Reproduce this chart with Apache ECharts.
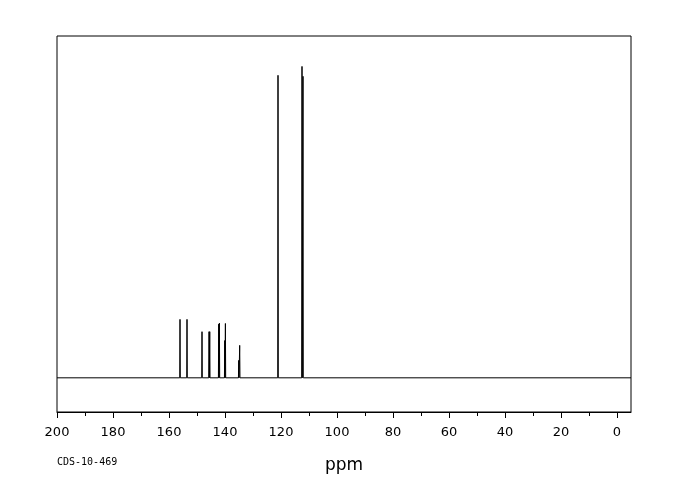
<!DOCTYPE html>
<html lang="en">

<head>
    <meta charset="UTF-8">
    <title>CDS-10-469 13C NMR</title>
    <script src="https://cdn.jsdelivr.net/npm/echarts@6.0.0/dist/echarts.min.js"></script>
</head>

<body style="margin:0">
    <div id="myChart" style="width: 680px; height: 500px;"></div>
    <script>
        // peak positions (ppm) and heights
        const peakPpm = [156.07, 153.57, 148.21, 145.7, 145.45, 142.25, 142.0, 140.1, 139.86, 135.1, 134.75, 121.07, 112.5, 112.14];
        const peakHeight = [17.1, 17.1, 13.5, 13.5, 13.5, 15.7, 16.0, 10.9, 15.9, 5.1, 9.5, 88.5, 91.1, 88.2];
        const majorTicks = [200, 180, 160, 140, 120, 100, 80, 60, 40, 20, 0];
        const minorTicks = [190, 170, 150, 130, 110, 90, 70, 50, 30, 10];

        const myChart = echarts.init(document.getElementById('myChart'));

        // baseline with narrow sticks at each peak
        const spectrum = [[200, 0]];
        peakPpm.forEach((p, i) => {
            spectrum.push([p + 0.1, 0]);
            spectrum.push([p, peakHeight[i]]);
            spectrum.push([p - 0.1, 0]);
        });
        spectrum.push([-5, 0]);

        const option = {
            animation: false,
            backgroundColor: '#fff',
            title: {
                text: 'CDS-10-469',
                left: 57,
                top: 457,
                padding: 0,
                textStyle: {
                    fontFamily: 'DejaVu Sans Mono',
                    fontSize: 10,
                    fontWeight: 'normal',
                    color: '#000'
                }
            },
            grid: {
                left: 57,
                right: 49,
                top: 36,
                bottom: 88,
                show: true,
                borderColor: '#000',
                borderWidth: 1
            },
            xAxis: [{
                type: 'value',
                inverse: true,
                min: -5,
                max: 200,
                name: 'ppm',
                nameLocation: 'middle',
                nameGap: 45,
                nameTextStyle: {
                    fontFamily: 'DejaVu Sans',
                    fontSize: 17,
                    color: '#000'
                },
                axisLine: { onZero: false, lineStyle: { color: '#000', width: 1 } },
                axisTick: {
                    length: 6,
                    customValues: majorTicks,
                    lineStyle: { color: '#000' }
                },
                axisLabel: {
                    customValues: majorTicks,
                    margin: 14,
                    fontFamily: 'DejaVu Sans',
                    fontSize: 13,
                    color: '#000'
                },
                splitLine: { show: false }
            }, {
                type: 'value',
                inverse: true,
                min: -5,
                max: 200,
                position: 'bottom',
                axisLine: { show: false, onZero: false },
                axisTick: {
                    length: 4,
                    customValues: minorTicks,
                    lineStyle: { color: '#000' }
                },
                axisLabel: { show: false },
                splitLine: { show: false }
            }],
            yAxis: {
                type: 'value',
                min: -10,
                max: 100,
                show: false
            },
            series: [{
                type: 'line',
                data: spectrum,
                showSymbol: false,
                lineStyle: { color: '#000', width: 1 }
            }]
        };
        myChart.setOption(option);
    </script>
</body>

</html>
